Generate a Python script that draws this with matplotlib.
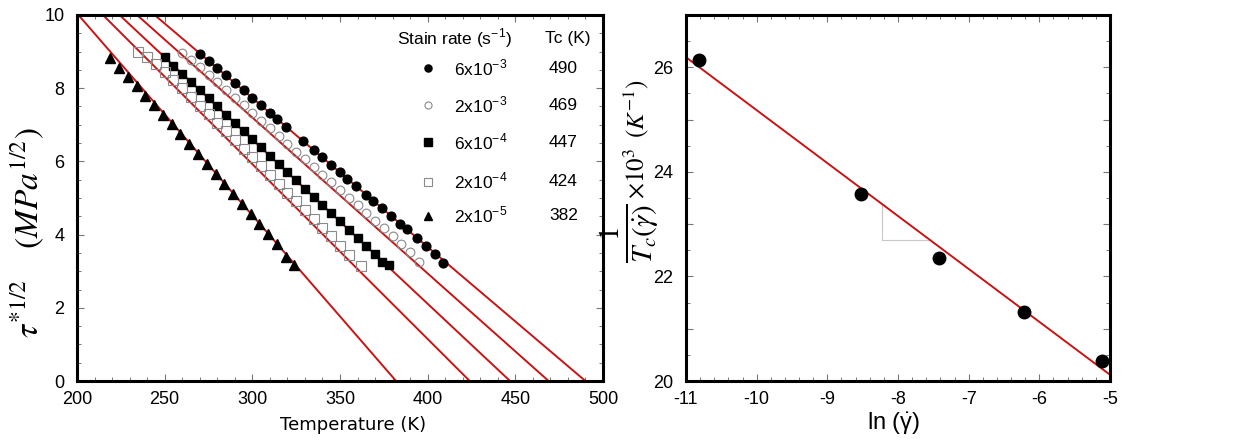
import matplotlib
matplotlib.use("Agg")
import matplotlib.pyplot as plt
from matplotlib.ticker import MultipleLocator, FuncFormatter
import numpy as np

plt.rcParams['font.family'] = ['Liberation Sans', 'DejaVu Sans']
plt.rcParams['mathtext.fontset'] = 'stix'
plt.rcParams['axes.unicode_minus'] = False

# ---------------- data: left panel ----------------
rate_labels = ['6x10$^{-3}$', '2x10$^{-3}$', '6x10$^{-4}$', '2x10$^{-4}$', '2x10$^{-5}$']
tc_values = [490, 469, 447, 424, 382]
fit_slopes = [0.0407, 0.0426, 0.0449, 0.0478, 0.0552]   # tau^(1/2) = s*(Tc - T)

T_circ = [270, 275, 280, 285, 290, 295, 300, 305, 310, 314, 319, 329, 335, 340, 345,
          350, 354, 359, 365, 369, 374, 379, 384, 388, 394, 399, 404, 409]
y_circ = [8.93, 8.75, 8.55, 8.36, 8.15, 7.94, 7.73, 7.53, 7.33, 7.15, 6.95, 6.55, 6.31,
          6.11, 5.90, 5.70, 5.53, 5.33, 5.09, 4.93, 4.72, 4.52, 4.30, 4.15, 3.90, 3.70,
          3.48, 3.22]

T_ocirc = [260, 265, 270, 275, 280, 285, 290, 295, 300, 305, 310, 315, 320, 325, 330,
           335, 340, 345, 350, 355, 360, 365, 370, 375, 380, 385, 390, 395]
y_ocirc = [8.95, 8.78, 8.58, 8.37, 8.16, 7.95, 7.74, 7.53, 7.32, 7.11, 6.90, 6.69, 6.48,
           6.27, 6.06, 5.85, 5.64, 5.43, 5.22, 5.01, 4.80, 4.59, 4.38, 4.17, 3.96, 3.75,
           3.52, 3.25]

T_sq = [250, 255, 260, 265, 270, 275, 280, 285, 290, 295, 300, 305, 310, 315, 320, 325,
        330, 335, 340, 345, 350, 355, 360, 365, 370, 374, 378]
y_sq = [8.85, 8.62, 8.40, 8.17, 7.95, 7.72, 7.50, 7.27, 7.05, 6.83, 6.60, 6.38, 6.15,
        5.93, 5.70, 5.48, 5.25, 5.03, 4.80, 4.58, 4.36, 4.13, 3.91, 3.70, 3.48, 3.26, 3.17]

T_osq = [235, 240, 245, 250, 255, 260, 265, 270, 275, 280, 285, 290, 295, 300, 305, 310,
         315, 320, 325, 330, 335, 340, 345, 350, 355, 362]
y_osq = [9.00, 8.85, 8.65, 8.45, 8.22, 8.00, 7.76, 7.52, 7.29, 7.06, 6.82, 6.59, 6.35,
         6.11, 5.87, 5.63, 5.39, 5.15, 4.91, 4.67, 4.43, 4.19, 3.95, 3.70, 3.45, 3.13]

T_tri = [219, 224, 229, 234, 239, 244, 249, 254, 259, 264, 269, 274, 279, 284, 289, 294,
         299, 304, 309, 314, 319, 324]
y_tri = [8.82, 8.56, 8.31, 8.06, 7.80, 7.53, 7.27, 7.01, 6.74, 6.47, 6.20, 5.93, 5.66,
         5.39, 5.11, 4.84, 4.57, 4.29, 4.01, 3.73, 3.40, 3.17]

# ---------------- data: right panel ----------------
ln_rate = [-10.82, -8.52, -7.42, -6.22, -5.12]
inv_tc = [26.14, 23.58, 22.36, 21.32, 20.39]
fit2_slope = -1.012
fit2_intercept = 15.06
slope_marker_x = -8.22
slope_marker_y = 22.70

RED = '#c81414'
GREY = '#8a8a8a'

fig = plt.figure(figsize=(12.47, 4.44), dpi=100)
ax1 = fig.add_axes([77/1247, 63/444, 526/1247, 366/444])
ax2 = fig.add_axes([686/1247, 63/444, 424/1247, 366/444])

# ---- left panel ----
for tc, s in zip(tc_values, fit_slopes):
    T = np.array([200.0, tc])
    ax1.plot(T, s*(tc - T), color=RED, lw=1.4, zorder=2)

ms = 6.3
series = [
    (T_circ, y_circ, dict(marker='o', mfc='black', mec='black', ms=ms)),
    (T_ocirc, y_ocirc, dict(marker='o', mfc='none', mec=GREY, ms=ms, mew=0.8)),
    (T_sq, y_sq, dict(marker='s', mfc='black', mec='black', ms=ms)),
    (T_osq, y_osq, dict(marker='s', mfc='none', mec=GREY, ms=ms+0.5, mew=0.8)),
    (T_tri, y_tri, dict(marker='^', mfc='black', mec='black', ms=ms+0.5)),
]
for T, y, st in series:
    ax1.plot(T, y, ls='none', zorder=3, **st)

ax1.set_xlim(200, 500)
ax1.set_ylim(0, 10)
ax1.xaxis.set_major_locator(MultipleLocator(50))
ax1.xaxis.set_minor_locator(MultipleLocator(10))
ax1.yaxis.set_major_locator(MultipleLocator(2))
ax1.yaxis.set_minor_locator(MultipleLocator(0.5))
ax1.set_xlabel('Temperature (K)', fontsize=13, family='DejaVu Sans')
ax1.xaxis.set_label_coords(0.525, -0.095)
ax1.set_ylabel(r'$\tau^{*1/2}\quad\;\left(MPa^{1/2}\right)$', fontsize=24)
ax1.yaxis.set_label_coords(-0.058, 0.405)

# legend built as text
hx, vx, tx = 0.608, 0.668, 0.716
ax1.text(hx, 0.935, 'Stain rate (s$^{\\mathregular{-1}}$)', transform=ax1.transAxes,
         fontsize=12.5, va='center', ha='left')
ax1.text(0.89, 0.935, 'Tc (K)', transform=ax1.transAxes, fontsize=12.5, va='center', ha='left')
row_y = [0.855, 0.754, 0.653, 0.545, 0.452]
for (T, y, st), lab, tc, ry in zip(series, rate_labels, tc_values, row_y):
    st2 = dict(st)
    st2['ms'] = st['ms'] - 1.2
    ax1.plot([vx], [ry], ls='none', transform=ax1.transAxes, clip_on=False, **st2)
    lab_txt = lab.replace('$^{', '$^{\\mathregular{').replace('}$', '}}$')
    ax1.text(tx, ry, lab_txt, transform=ax1.transAxes, fontsize=12.5, va='center', ha='left')
    ax1.text(0.925, ry, str(tc), transform=ax1.transAxes, fontsize=12.5, va='center', ha='center')

# ---- right panel ----
xs = np.array([-11.0, -5.0])
ax2.plot(xs, fit2_intercept + fit2_slope*xs, color=RED, lw=1.4, zorder=2)
x_end = (slope_marker_y - fit2_intercept)/fit2_slope
y_top = fit2_intercept + fit2_slope*slope_marker_x
ax2.plot([slope_marker_x, x_end], [slope_marker_y, slope_marker_y], color='#c8c8c8', lw=0.8, zorder=1)
ax2.plot([slope_marker_x, slope_marker_x], [slope_marker_y, y_top], color='#c8c8c8', lw=0.8, zorder=1)
ax2.plot(ln_rate, inv_tc, ls='none', marker='o', mfc='black', mec='black', ms=9, zorder=3)

ax2.set_xlim(-11, -5)
ax2.set_ylim(20, 27)
ax2.xaxis.set_major_locator(MultipleLocator(1))
ax2.xaxis.set_minor_locator(MultipleLocator(0.2))
ax2.yaxis.set_major_locator(MultipleLocator(1))
ax2.yaxis.set_minor_locator(MultipleLocator(0.5))
ax2.yaxis.set_major_formatter(FuncFormatter(lambda v, p: f'{int(round(v))}' if round(v) % 2 == 0 else ''))
ax2.xaxis.set_major_formatter(FuncFormatter(lambda v, p: f'{int(round(v))}'))
ax2.set_xlabel(r'ln ($\mathregular{\dot{\gamma}}$)', fontsize=17,
               family=['Liberation Sans Narrow', 'Liberation Sans'])
ax2.xaxis.set_label_coords(0.49, -0.08)

# y label of right panel: big fraction + rest
ax2.text(-0.133, 0.405, r'$\frac{1}{T_c\left(\dot{\gamma}\right)}$', transform=ax2.transAxes,
         rotation=90, fontsize=30, ha='center', va='center')
ax2.text(-0.118, 0.66, r'$\times 10^{3}\;\;\left(K^{-1}\right)$', transform=ax2.transAxes,
         rotation=90, fontsize=18, ha='center', va='center')

for ax in (ax1, ax2):
    for sp in ax.spines.values():
        sp.set_linewidth(2.2)
    ax.tick_params(which='both', direction='in', top=True, right=True, color='#777777')
    ax.tick_params(which='major', length=5, width=0.8, labelsize=13)
    ax.tick_params(which='minor', length=3, width=0.7)
    ax.tick_params(axis='x', which='major', pad=7)
    ax.tick_params(axis='y', which='major', pad=9)

fig.savefig('out.png', dpi=100)
